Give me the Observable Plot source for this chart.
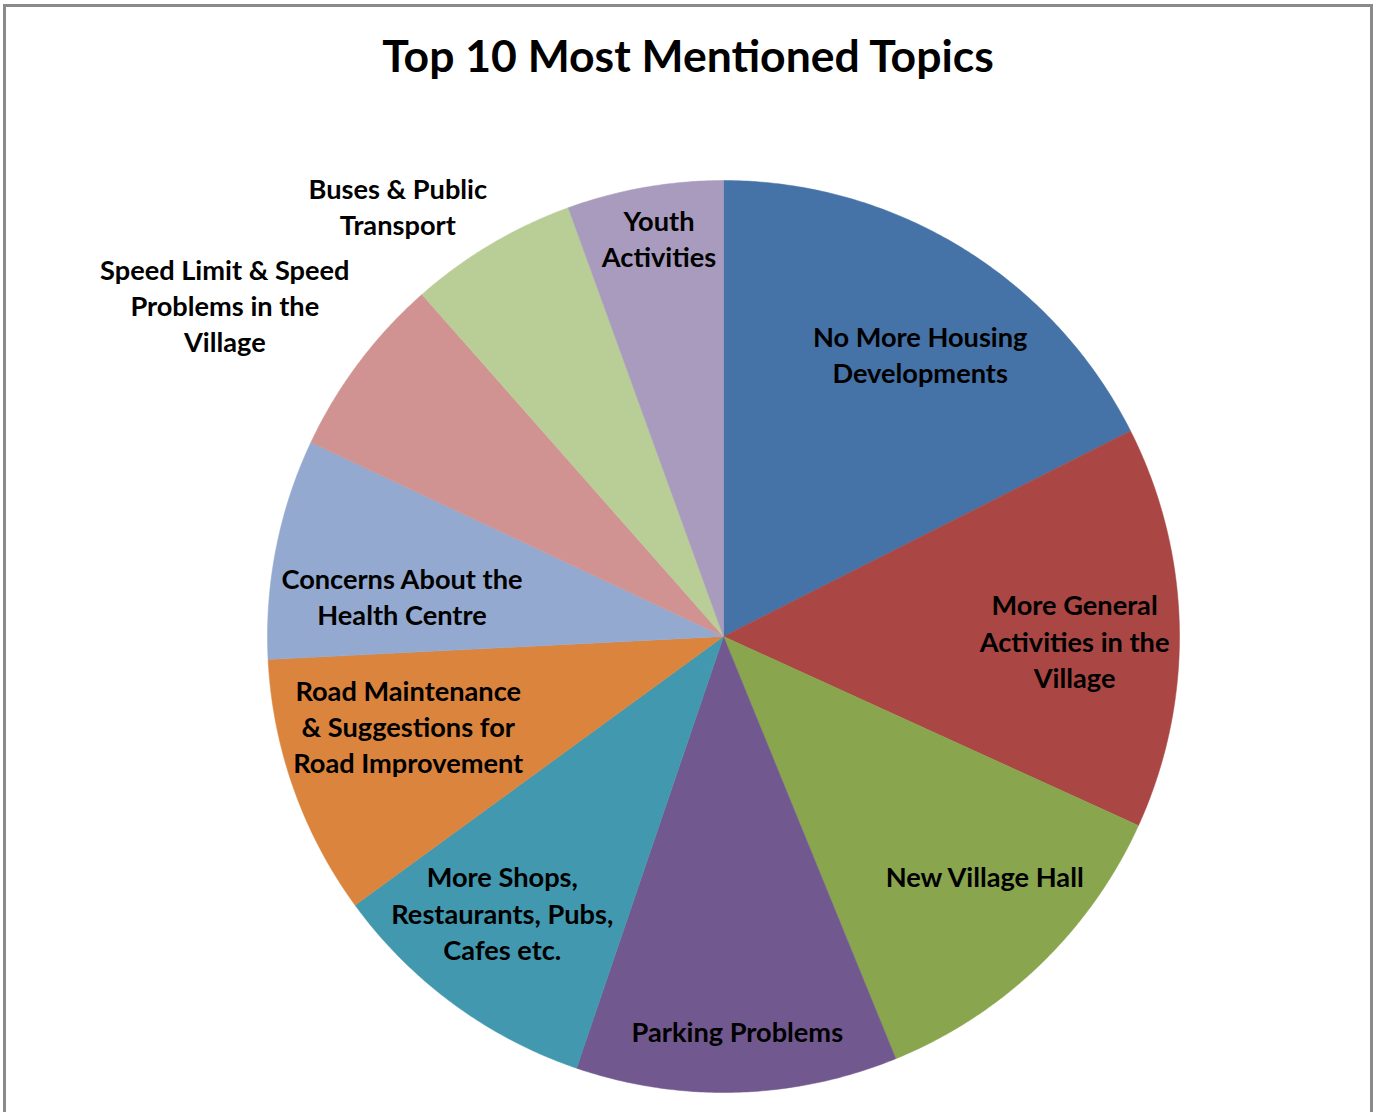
<!DOCTYPE html>
<html>
<head>
<meta charset="utf-8">
<script src="https://cdn.jsdelivr.net/npm/d3@7"></script>
<script src="https://cdn.jsdelivr.net/npm/@observablehq/plot@0.6"></script>
<style>
  html, body { margin: 0; padding: 0; background: #fff; overflow: hidden; }
  #frame { position: absolute; left: 3px; top: 4px; width: 1370px; height: 1200px; border: 3px solid #8a8a8a; box-sizing: border-box; }
  #title { position: absolute; left: 0; top: 28px; width: 1376px; text-align: center;
           font-family: Lato, "Open Sans", sans-serif; font-weight: 700; font-size: 44.5px; color: #000; }
  #chart { position: absolute; left: 0; top: 110px; }
</style>
</head>
<body>
<div id="frame"></div>
<div id="title">Top 10 Most Mentioned Topics</div>
<div id="chart"></div>
<script>
// ---- data ----
const topics = [
  "No More Housing Developments",
  "More General Activities in the Village",
  "New Village Hall",
  "Parking Problems",
  "More Shops, Restaurants, Pubs, Cafes etc.",
  "Road Maintenance & Suggestions for Road Improvement",
  "Concerns About the Health Centre",
  "Speed Limit & Speed Problems in the Village",
  "Buses & Public Transport",
  "Youth Activities"
];
const values = [63.2, 51.3, 43.3, 41.0, 35.1, 33.2, 28.1, 23.4, 21.5, 19.9];
const labelLines = [
  "No More Housing\nDevelopments",
  "More General\nActivities in the\nVillage",
  "New Village Hall",
  "Parking Problems",
  "More Shops,\nRestaurants, Pubs,\nCafes etc.",
  "Road Maintenance\n& Suggestions for\nRoad Improvement",
  "Concerns About the\nHealth Centre",
  "Speed Limit & Speed\nProblems in the\nVillage",
  "Buses & Public\nTransport",
  "Youth\nActivities"
];
const colors = ["#4572A7", "#AA4643", "#89A54E", "#71588F", "#4198AF",
                "#DB843D", "#93A9CF", "#D19392", "#B9CD96", "#A99BBD"];

// ---- layout (label placement relative to slice: radius fraction, angle nudge in degrees) ----
const labelRadius = [0.75, 0.77, 0.78, 0.87, 0.78, 0.72, 0.71, 1.31, 1.18, 0.88];
const labelNudge  = [3.5, 2.2, -3.4, -0.3, 2.1, 3.3, -4.4, -3.5, -6.6, 0.7];

// ---- build pie geometry from values ----
const total = d3.sum(values);
let acc = 0;
const slices = topics.map((t, i) => {
  const a0 = acc / total * 2 * Math.PI;
  acc += values[i];
  const a1 = acc / total * 2 * Math.PI;
  return {topic: t, a0, a1, i};
});
const polyPts = [];
for (const s of slices) {
  polyPts.push({topic: s.topic, x: 0, y: 0});
  const n = Math.max(2, Math.ceil((s.a1 - s.a0) / (Math.PI / 360)));
  for (let k = 0; k <= n; k++) {
    const a = s.a0 + (s.a1 - s.a0) * k / n;
    polyPts.push({topic: s.topic, x: Math.sin(a), y: Math.cos(a)});
  }
  polyPts.push({topic: s.topic, x: 0, y: 0});
}
const labels = slices.map(s => {
  const a = (s.a0 + s.a1) / 2 + labelNudge[s.i] * Math.PI / 180;
  const r = labelRadius[s.i];
  return {text: labelLines[s.i], x: r * Math.sin(a), y: r * Math.cos(a)};
});

const cx = 723, cy = 636 - 110, R = 456;
const plot = Plot.plot({
  width: 1376,
  height: 1002,
  margin: 0,
  x: {domain: [-1, 1], range: [cx - R, cx + R], axis: null},
  y: {domain: [-1, 1], range: [cy + R, cy - R], axis: null},
  color: {domain: topics, range: colors},
  style: {background: "transparent", overflow: "visible"},
  marks: [
    Plot.line(polyPts, {x: "x", y: "y", z: "topic", fill: "topic", stroke: "topic", strokeWidth: 0.5, curve: "linear"}),
    Plot.text(labels, {x: "x", y: "y", text: "text", fontSize: 27.2, fontWeight: 700,
      fontFamily: "Lato, 'Open Sans', sans-serif", fill: "#000", lineHeight: 1.33, textAnchor: "middle", dy: -3})
  ]
});
document.getElementById("chart").appendChild(plot);
</script>
</body>
</html>
